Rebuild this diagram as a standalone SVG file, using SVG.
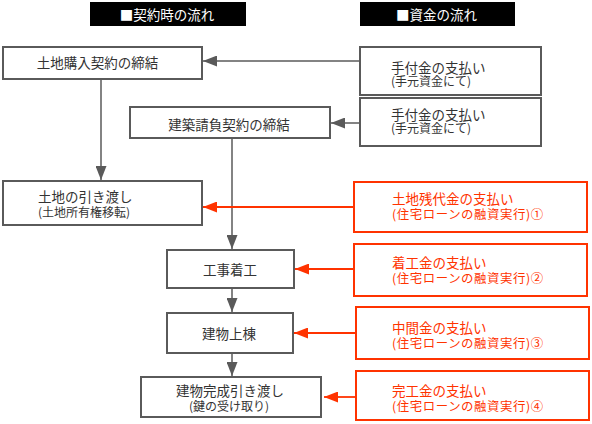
<svg xmlns="http://www.w3.org/2000/svg" width="592" height="424" viewBox="0 0 592 424">
<style>
text{font-family:"Noto Sans CJK JP","Noto Sans",sans-serif;}
.hd{fill:#000;}
.ht{fill:#fff;font-size:13.5px;text-anchor:middle;}
.gb{fill:#fff;stroke:#5a5a5a;stroke-width:2;}
.rb{fill:#fff;stroke:#ff3300;stroke-width:2;}
.gt{fill:#333;font-size:13.5px;}
.gs{fill:#333;font-size:12px;}
.rt{fill:#ff3300;font-size:13.5px;}
.rs{fill:#ff3300;font-size:12.4px;letter-spacing:0.6px;}
.c{text-anchor:middle;}
.gl{stroke:#5a5a5a;stroke-width:1.5;fill:none;}
.rl{stroke:#ff3300;stroke-width:1.8;fill:none;}
</style>
<defs>
<marker id="ag" markerUnits="userSpaceOnUse" markerWidth="14" markerHeight="11" viewBox="0 0 14 11" refX="14" refY="5.5" orient="auto">
<path d="M0,0 L14,5.5 L0,11 Z" fill="#5a5a5a"/>
</marker>
<marker id="ar" markerUnits="userSpaceOnUse" markerWidth="14" markerHeight="11" viewBox="0 0 14 11" refX="14" refY="5.5" orient="auto">
<path d="M0,0 L14,5.5 L0,11 Z" fill="#ff3300"/>
</marker>
</defs>
<g id="headers">
<rect class="hd" x="90" y="2" width="156" height="24"/>
<text class="ht" x="167" y="19.5">■契約時の流れ</text>
<rect class="hd" x="360" y="2" width="155" height="24"/>
<text class="ht" x="436.5" y="19.5">■資金の流れ</text>
</g>
<g id="connectors">
<line class="gl" x1="360" y1="61" x2="203" y2="61" marker-end="url(#ag)"/>
<line class="gl" x1="360" y1="123" x2="331" y2="123" marker-end="url(#ag)"/>
<line class="gl" x1="101" y1="80" x2="101" y2="180" marker-end="url(#ag)"/>
<line class="gl" x1="232" y1="139" x2="232" y2="249" marker-end="url(#ag)"/>
<line class="gl" x1="232" y1="289" x2="232" y2="312" marker-end="url(#ag)"/>
<line class="gl" x1="232" y1="354" x2="232" y2="376" marker-end="url(#ag)"/>
<line class="rl" x1="354" y1="207" x2="203" y2="207" marker-end="url(#ar)"/>
<line class="rl" x1="354" y1="269" x2="295" y2="269" marker-end="url(#ar)"/>
<line class="rl" x1="356" y1="333" x2="294" y2="333" marker-end="url(#ar)"/>
<line class="rl" x1="356" y1="397" x2="324" y2="397" marker-end="url(#ar)"/>
</g>
<g id="n1">
<rect class="gb" x="3" y="47" width="199" height="32"/>
<text class="gt c" x="97.5" y="67.5">土地購入契約の締結</text>
</g>
<g id="n2">
<rect class="gb" x="130" y="107" width="200" height="31"/>
<text class="gt c" x="229" y="130">建築請負契約の締結</text>
</g>
<g id="n3">
<rect class="gb" x="3" y="181" width="199" height="44"/>
<text class="gt" x="38" y="202">土地の引き渡し</text>
<text class="gs" x="38" y="217">(土地所有権移転)</text>
</g>
<g id="n4">
<rect class="gb" x="167" y="250" width="127" height="38"/>
<text class="gt c" x="230" y="275">工事着工</text>
</g>
<g id="n5">
<rect class="gb" x="167" y="313" width="126" height="40"/>
<text class="gt c" x="229" y="339">建物上棟</text>
</g>
<g id="n6">
<rect class="gb" x="141" y="377" width="180" height="40"/>
<text class="gt c" x="230" y="396">建物完成引き渡し</text>
<text class="gs c" x="229" y="411">(鍵の受け取り)</text>
</g>
<g id="p1">
<rect class="gb" x="360" y="47" width="181" height="48"/>
<text class="gt" x="391" y="73">手付金の支払い</text>
<text class="gs" x="391" y="86">(手元資金にて)</text>
</g>
<g id="p2">
<rect class="gb" x="360" y="98" width="181" height="48"/>
<text class="gt" x="391" y="120">手付金の支払い</text>
<text class="gs" x="391" y="133">(手元資金にて)</text>
</g>
<g id="p3">
<rect class="rb" x="354" y="182" width="233" height="50"/>
<text class="rt" x="392" y="204">土地残代金の支払い</text>
<text class="rs" x="392" y="219">(住宅ローンの融資実行)①</text>
</g>
<g id="p4">
<rect class="rb" x="354" y="244" width="233" height="52"/>
<text class="rt" x="392" y="268">着工金の支払い</text>
<text class="rs" x="392" y="283">(住宅ローンの融資実行)②</text>
</g>
<g id="p5">
<rect class="rb" x="356" y="307" width="233" height="52"/>
<text class="rt" x="392" y="333">中間金の支払い</text>
<text class="rs" x="392" y="348">(住宅ローンの融資実行)③</text>
</g>
<g id="p6">
<rect class="rb" x="356" y="371" width="233" height="49"/>
<text class="rt" x="392" y="396">完工金の支払い</text>
<text class="rs" x="392" y="411">(住宅ローンの融資実行)④</text>
</g>
</svg>
